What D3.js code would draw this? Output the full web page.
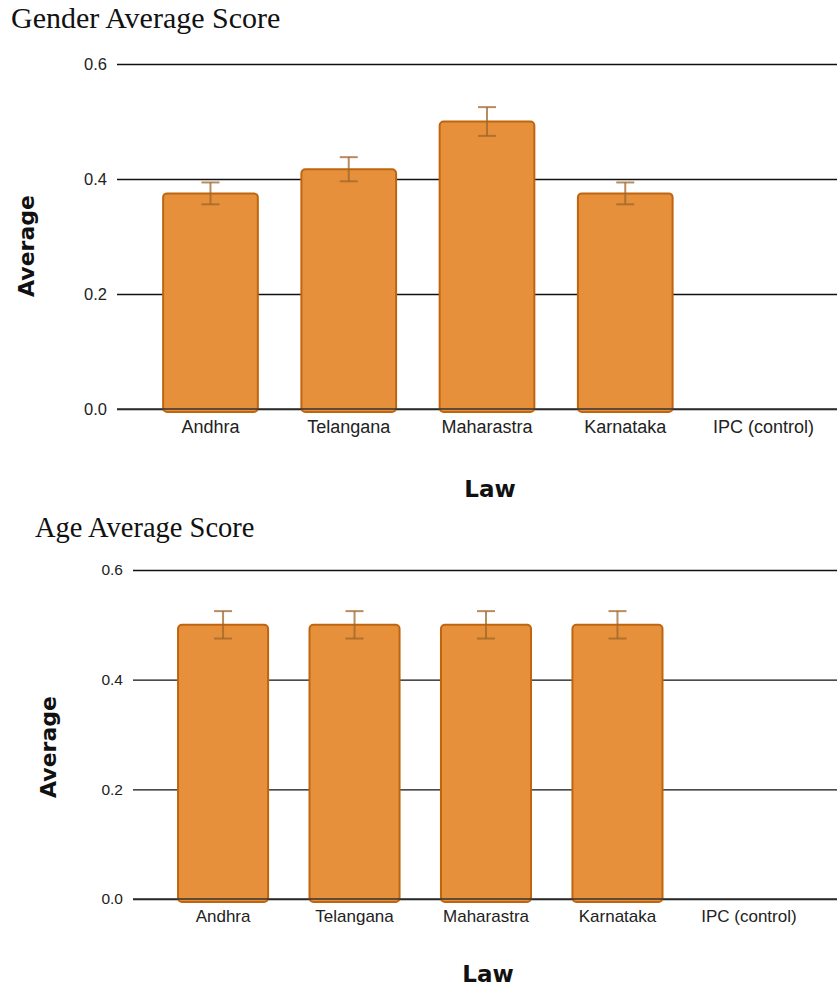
<!DOCTYPE html>
<html>
<head>
<meta charset="utf-8">
<title>Average Scores</title>
<script src="https://d3js.org/d3.v7.min.js"></script>
<style>
  body { margin: 0; background: #fff; }
  svg { display: block; }
  .title { font-family: "Liberation Serif", "Times New Roman", serif; fill: #111; }
  .tick text { font-family: "Liberation Sans", Arial, sans-serif; fill: #222; }
  .axis-title { font-family: "DejaVu Sans", Verdana, sans-serif; font-weight: bold; fill: #111; }
</style>
</head>
<body>
<svg id="chart" width="837" height="987"></svg>
<script>
  // data
  const laws = ["Andhra", "Telangana", "Maharastra", "Karnataka", "IPC (control)"];
  const genderAvg = [0.375, 0.417, 0.5, 0.375, 0];
  const genderErr = [0.019, 0.021, 0.025, 0.019, 0];
  const ageAvg = [0.5, 0.5, 0.5, 0.5, 0];
  const ageErr = [0.025, 0.025, 0.025, 0.025, 0];
  const yTicks = [0, 0.2, 0.4, 0.6];

  const svg = d3.select("svg#chart");

  // one panel: title, gridlines, bars, error bars, axis titles
  function drawPanel(opt) {
    const g = svg.append("g");
    const rows = laws.map((law, i) => ({law: law, v: opt.values[i], e: opt.errors[i]}));

    const x = d3.scaleBand().domain(laws).range([opt.bandLeft, opt.bandRight]).paddingInner(0.315).paddingOuter(0.16);
    const y = d3.scaleLinear().domain([0, 0.6]).range([opt.bottom, opt.top]);

    g.append("text").attr("class", "title")
      .attr("x", opt.titleX).attr("y", opt.titleY)
      .attr("font-size", opt.titleSize)
      .text(opt.title);

    // gridlines + tick labels
    const yAxis = g.append("g")
      .attr("transform", `translate(${opt.gridLeft},0)`)
      .call(d3.axisRight(y).tickValues(yTicks).tickFormat(d3.format(".1f")).tickSize(837 - opt.gridLeft));
    yAxis.select(".domain").remove();
    yAxis.selectAll(".tick line").attr("stroke", "#111").attr("stroke-width", 1.3);
    yAxis.selectAll(".tick text")
      .attr("x", -10).attr("text-anchor", "end")
      .attr("font-size", opt.tickSize);

    // bars
    g.selectAll("rect.bar").data(rows.filter(d => d.v > 0))
      .join("rect")
      .attr("class", "bar")
      .attr("x", d => x(d.law))
      .attr("y", d => y(d.v))
      .attr("width", x.bandwidth())
      .attr("height", d => y(0) - y(d.v) + 3)
      .attr("rx", 4)
      .attr("fill", "#e6903b")
      .attr("stroke", "#c0650f")
      .attr("stroke-width", 2);

    // base line drawn over bar bottoms
    g.append("line")
      .attr("x1", opt.gridLeft).attr("x2", 837)
      .attr("y1", y(0)).attr("y2", y(0))
      .attr("stroke", "#333").attr("stroke-width", 1.3);

    // error bars
    const eb = g.selectAll("g.err").data(rows.filter(d => d.v > 0))
      .join("g").attr("class", "err")
      .attr("stroke", "#a0652a").attr("stroke-opacity", 0.75).attr("stroke-width", 2);
    eb.append("line")
      .attr("x1", d => x(d.law) + x.bandwidth() / 2).attr("x2", d => x(d.law) + x.bandwidth() / 2)
      .attr("y1", d => y(d.v + d.e)).attr("y2", d => y(d.v - d.e));
    eb.append("line")
      .attr("x1", d => x(d.law) + x.bandwidth() / 2 - 9).attr("x2", d => x(d.law) + x.bandwidth() / 2 + 9)
      .attr("y1", d => y(d.v + d.e)).attr("y2", d => y(d.v + d.e));
    eb.append("line")
      .attr("x1", d => x(d.law) + x.bandwidth() / 2 - 9).attr("x2", d => x(d.law) + x.bandwidth() / 2 + 9)
      .attr("y1", d => y(d.v - d.e)).attr("y2", d => y(d.v - d.e));

    // category labels
    const xAxis = g.append("g")
      .attr("transform", `translate(0,${opt.bottom})`)
      .call(d3.axisBottom(x).tickSize(0).tickPadding(11));
    xAxis.select(".domain").remove();
    xAxis.selectAll(".tick text").attr("font-size", opt.labelSize);

    g.append("text").attr("class", "axis-title")
      .attr("transform", `translate(${opt.yTitleX},${opt.yTitleY}) rotate(-90)`)
      .attr("text-anchor", "middle").attr("dy", "0.35em")
      .attr("font-size", 22)
      .text("Average");

    g.append("text").attr("class", "axis-title")
      .attr("x", opt.xTitleX).attr("y", opt.xTitleY)
      .attr("text-anchor", "middle")
      .attr("font-size", 23)
      .text("Law");
  }

  drawPanel({
    title: "Gender Average Score", titleX: 11, titleY: 28, titleSize: 30,
    values: genderAvg, errors: genderErr,
    top: 64, bottom: 409, gridLeft: 117,
    bandLeft: 141, bandRight: 833,
    tickSize: 16.5, labelSize: 18,
    yTitleX: 26, yTitleY: 246, xTitleX: 490, xTitleY: 497
  });

  drawPanel({
    title: "Age Average Score", titleX: 35, titleY: 537, titleSize: 28.5,
    values: ageAvg, errors: ageErr,
    top: 570, bottom: 899, gridLeft: 133,
    bandLeft: 157, bandRight: 815,
    tickSize: 15.5, labelSize: 17,
    yTitleX: 48, yTitleY: 747, xTitleX: 488, xTitleY: 982
  });
</script>
</body>
</html>
